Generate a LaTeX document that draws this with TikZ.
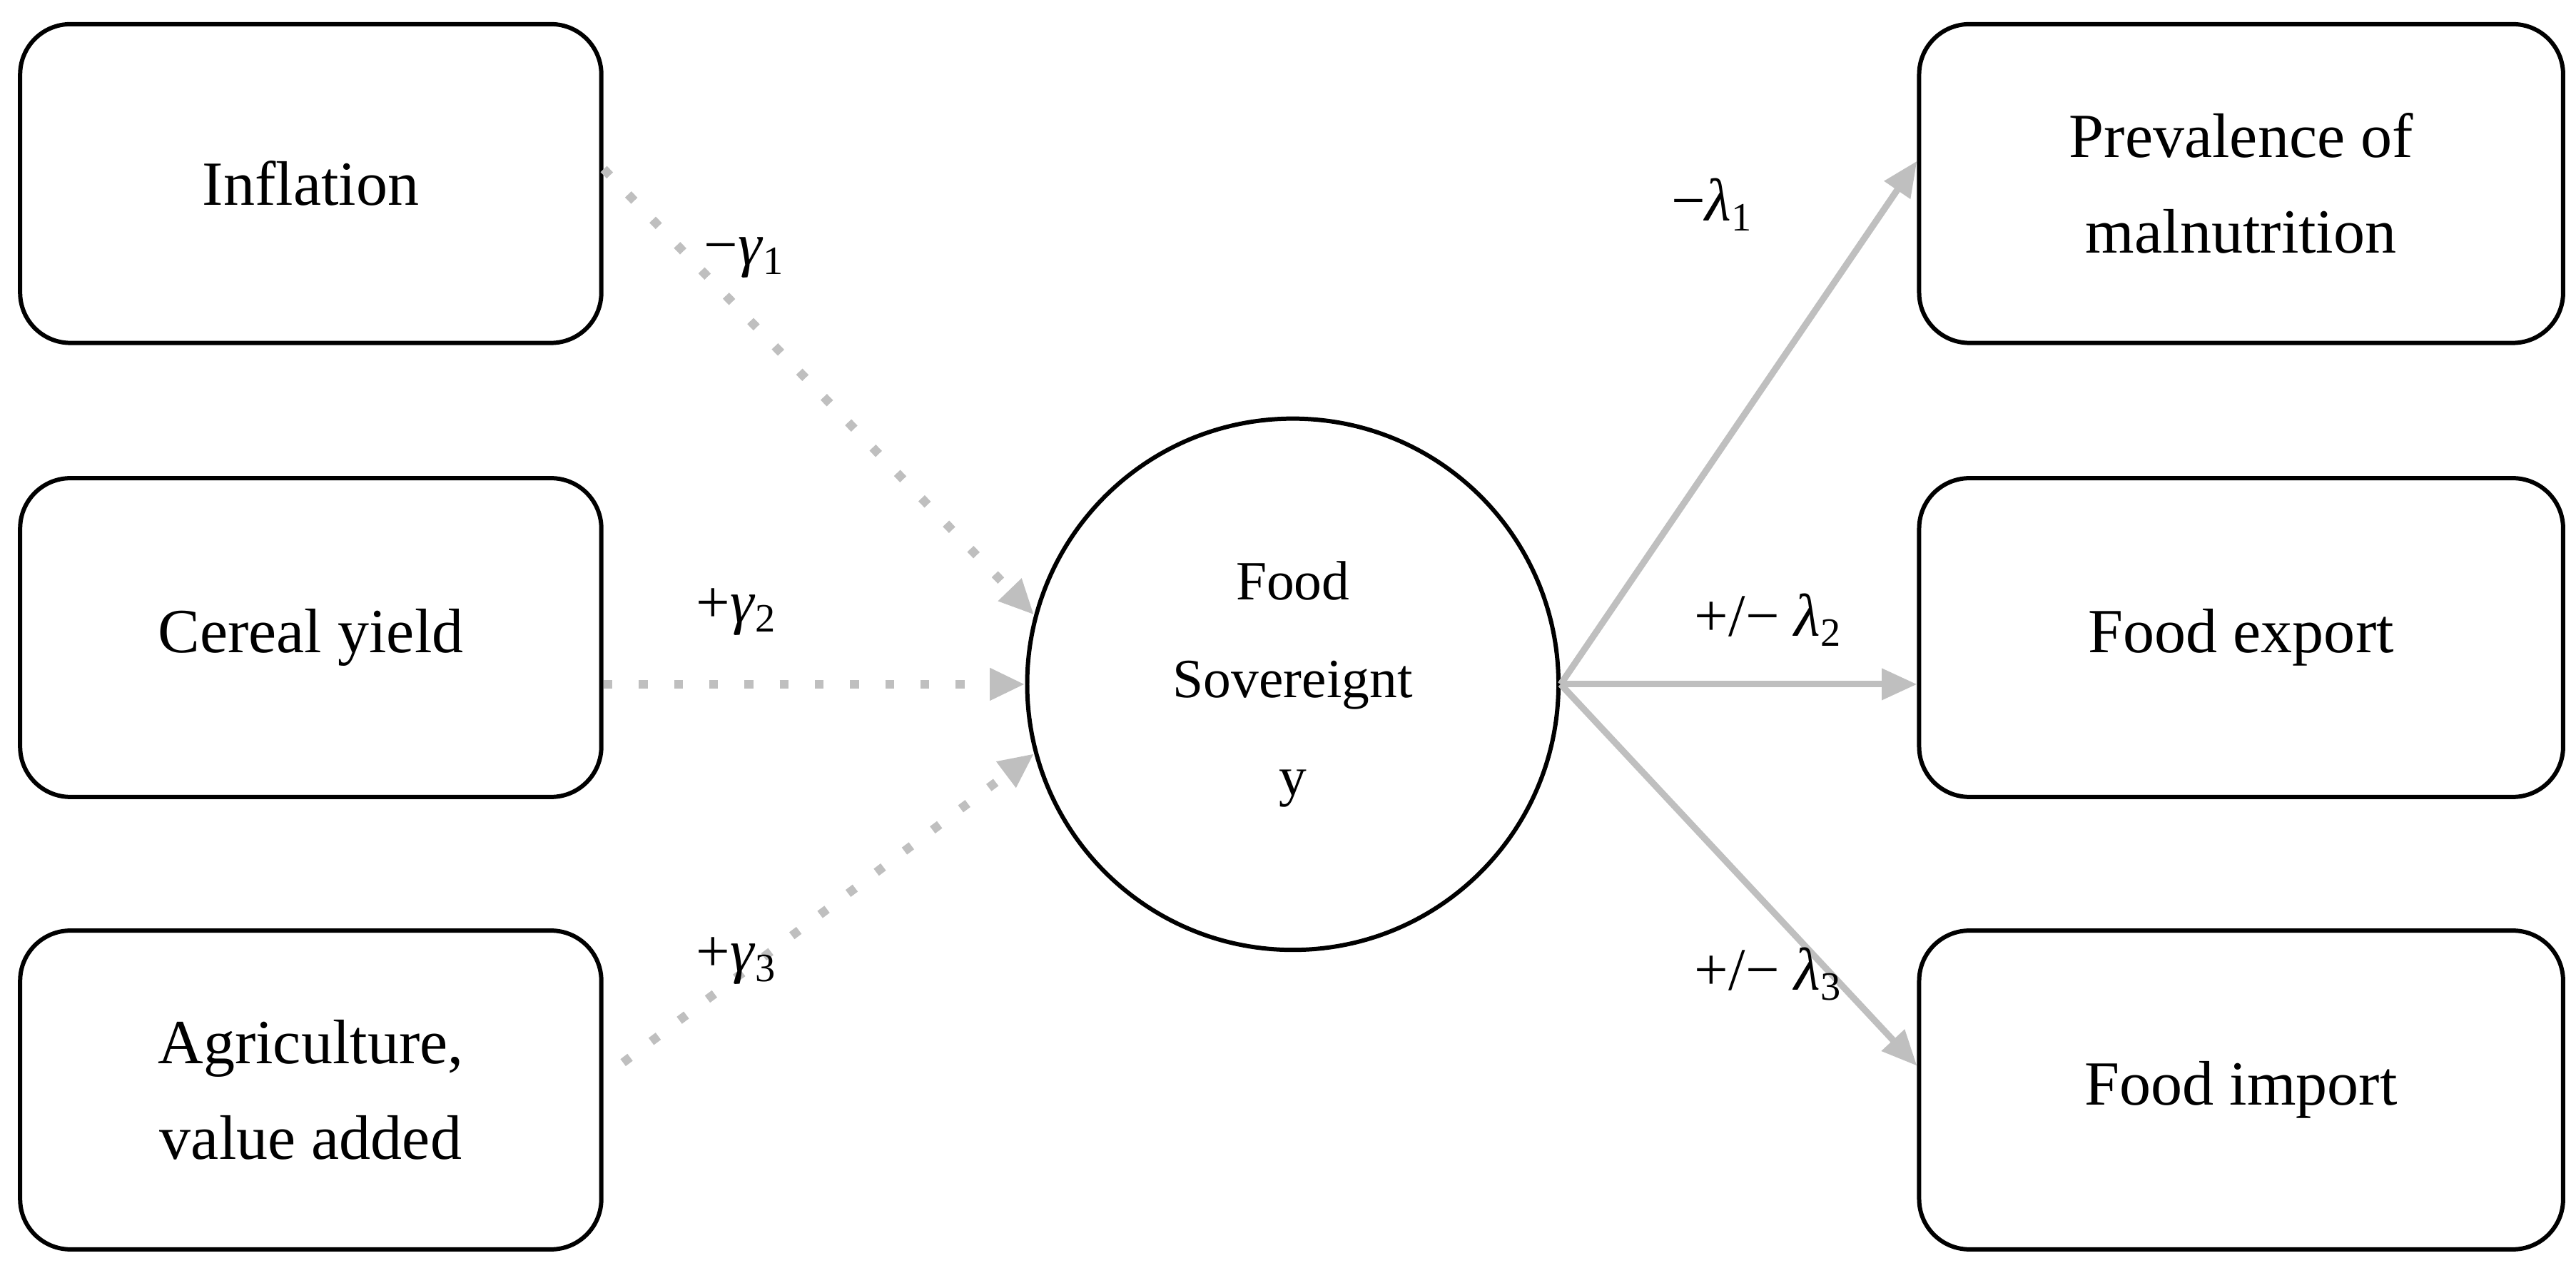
\documentclass[tikz,border=0pt]{standalone}
\usepackage{fontspec}
\setmainfont{Liberation Serif}
\usetikzlibrary{arrows.meta}
\newcommand{\sbs}[1]{\raisebox{-0.35ex}{\fontsize{16}{16}\selectfont #1}}
\begin{document}
\begin{tikzpicture}[x=0.0225cm,y=-0.0225cm,
  box/.style={draw,line width=1.7pt,rounded corners=20pt,minimum width=361*0.0225cm,minimum height=198*0.0225cm,align=center,font=\fontsize{25}{38}\selectfont},
  rbox/.style={box,minimum width=400*0.0225cm},
  dotarr/.style={draw=black!25,line width=3.5pt,dash pattern=on 3.5pt off 10.5pt,-{Triangle[length=14pt,width=12pt,fill=black!25]}},
  solarr/.style={draw=black!25,line width=2.6pt,-{Triangle[length=14pt,width=12pt,fill=black!25]}},
  lab/.style={font=\fontsize{24}{28}\selectfont}]
\useasboundingbox (0,0) rectangle (1600,800);
\node[box] (inf) at (193,114) {Inflation};
\node[box] (cer) at (193,396) {Cereal yield};
\node[box] (agr) at (193,677) {Agriculture,\\value added};
\node[rbox] (mal) at (1392,114) {Prevalence of\\malnutrition};
\node[rbox] (exp) at (1392,396) {Food export};
\node[rbox] (imp) at (1392,677) {Food import};
\node[draw,circle,line width=1.7pt,minimum size=330*0.0225cm,align=center,font=\fontsize{22}{39}\selectfont] (fs) at (803,425) {Food\\Sovereignt\\y};
\coordinate (a1) at (375,105);
\coordinate (a2) at (375,425);
\coordinate (a3) at (387,660);
\draw[dotarr] (a1) -- (fs.165);
\draw[dotarr] (a2) -- (fs.west);
\draw[dotarr] (a3) -- (fs.195);
\draw[solarr] (fs.east) -- (mal.west|-0,100);
\draw[solarr] (fs.east) -- (exp.west|-fs.east);
\draw[solarr] (fs.east) -- (imp.west|-0,662);
\node[lab] (g1) at (462,160) {−\textit{γ}\sbs{1}};
\node[lab] (g2) at (457,380) {+\textit{γ}\sbs{2}};
\node[lab] (g3) at (457,597) {+\textit{γ}\sbs{3}};
\node[lab] (l1) at (1063,127) {−\textit{λ}\sbs{1}};
\node[lab] (l2) at (1098,385) {+/− \textit{λ}\sbs{2}};
\node[lab] (l3) at (1098,605) {+/− \textit{λ}\sbs{3}};
\end{tikzpicture}
\end{document}
